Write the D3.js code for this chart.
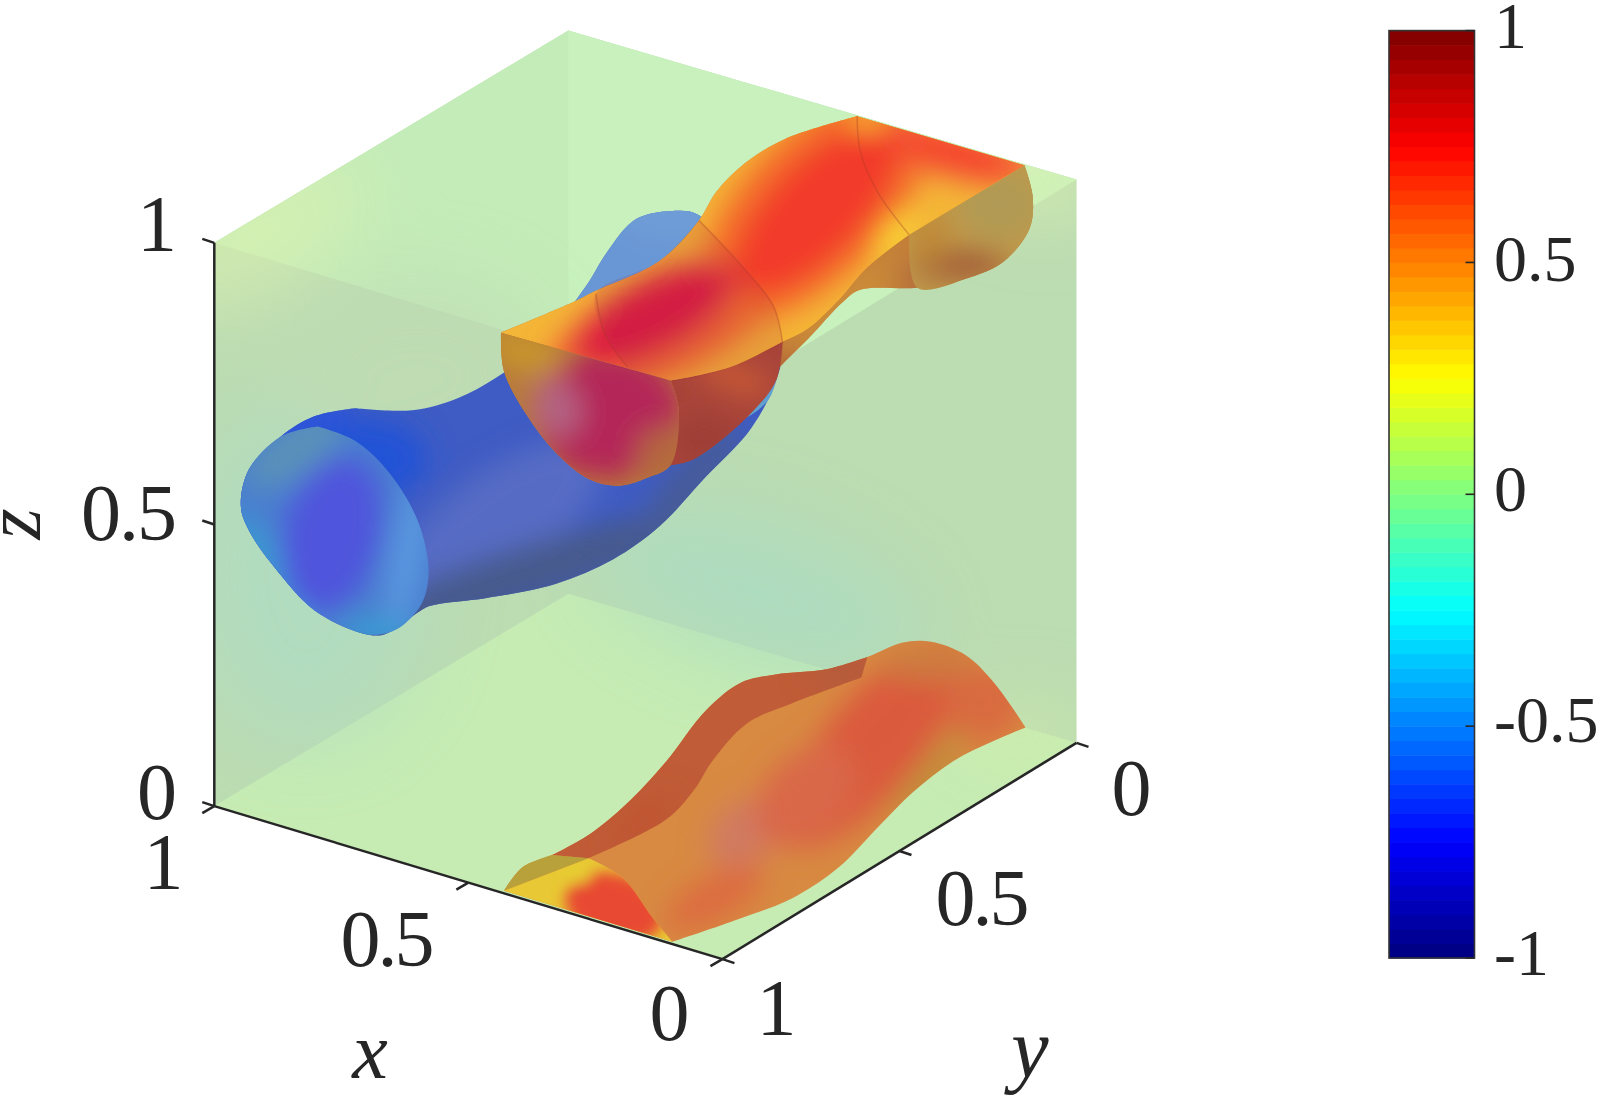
<!DOCTYPE html>
<html><head><meta charset="utf-8">
<style>html,body{margin:0;background:#fff}svg{display:block}text{font-family:"Liberation Serif",serif;fill:#262626}</style>
<script src="https://cdn.jsdelivr.net/npm/d3@7"></script></head><body><svg id="c" width="1600" height="1095"></svg>
<script>
// ---- axis data
const axisTicks=[0,0.5,1];
const zTickLabels=["0","0.5","1"], xTickLabels=["0","0.5","1"], yTickLabels=["0","0.5","1"];
const cbTicks=[-1,-0.5,0,0.5,1];
const cbTickLabels=["-1","-0.5","0","0.5","1"];
const jetStops=[-1,-0.75,-0.25,0.25,0.75,1];
const jetColors=["#00007f","#0000ff","#00ffff","#ffff00","#ff0000","#7f0000"];
const blueBody=[[138,390],[194,388],[239,400],[284,425],[330,460],[354,495],[368,515],[385,543],[413,575],[447,583],[475,579],[510,530],[540,490],[557,455],[551,418],[526,370],[481,322],[436,274],[391,242],[335,218],[267,204],[211,196],[194,186],[166,168],[143,170],[98,192],[59,234],[34,270],[26,294],[34,330],[65,362],[98,382]];
const blueCap=[[101,372],[138,358],[172,326],[200,278],[210,230],[203,198],[180,174],[160,168],[143,170],[98,192],[59,234],[34,270],[26,294],[34,330],[65,362]];
const blueTail=[[354,495],[368,515],[385,543],[413,575],[447,583],[475,579],[510,530],[557,455],[490,460],[402,430]];
const blueSliver=[[551,418],[543,398],[520,380],[501,376],[530,420]];
const redSilhouette=[[281,464],[352,494],[374,505],[436,534],[475,574],[492,602],[520,630],[560,654],[630,676],[794,628],[802,598],[799,566],[774,534],[740,518],[689,508],[633,506],[616,494],[582,458],[554,430],[537,408],[447,334],[425,322],[397,314],[368,320],[335,346],[307,382],[284,426]];
const redTopFace=[[281,464],[352,494],[374,505],[436,534],[475,574],[492,602],[520,630],[560,654],[630,676],[794,628],[681,560],[640,528],[612,496],[582,468],[557,455],[505,430],[447,417]];
const redFrontCap=[[281,464],[447,417],[455,390],[447,334],[425,322],[397,314],[368,320],[335,346],[307,382],[284,426]];
const redUnder=[[447,417],[505,430],[557,455],[551,418],[526,385],[470,340],[447,334],[455,390]];
const redBackCap=[[794,628],[802,598],[799,566],[774,534],[740,518],[689,508],[681,560]];
const redBand=[[475,574],[520,526],[548,490],[557,454],[505,430],[447,417],[405,430],[383,462],[374,502],[436,534]];
const seamArcs=[[[630,676],[633,642],[650,602],[681,560]],[[475,574],[520,526],[548,490],[557,454]],[[374,502],[383,462],[405,430]]];
const floorBody=[[284,-83],[302,-60],[331,-48],[370,-26],[409,7],[443,44],[482,94],[516,121],[550,129],[600,134],[640,146],[674,160],[702,161],[736,148],[764,121],[795,77],[764,64],[724,44],[685,14],[651,-20],[612,-60],[567,-90],[516,-110],[449,-133]];
const floorStrip=[[331,-48],[370,-26],[409,7],[443,44],[482,94],[516,121],[550,129],[600,134],[640,146],[634,126],[567,101],[522,81],[488,44],[471,17],[443,-13],[367,-51]];
const floorOlive=[[284,-83],[302,-60],[331,-48],[367,-51]];
const floorCap=[[284,-83],[367,-51],[400,-70],[430,-110],[449,-133]];
// ---- shading patches: [u,v,rx,ry,angle,colour]
const wallTints=[[90,230,120,170,0,"#aedcc4"],[530,210,170,70,18,"#a9dcc4"],[40,560,120,50,-30,"#dcf2ae"],[800,620,70,40,20,"#dcf2ae"],[790,70,70,30,0,"#d2eca8"],[200,420,130,100,0,"#c0dcb4"]];
const blueShade=[[60,300,70,130,20,"#2f55d8"],[150,340,60,40,0,"#2452d6"],[280,280,120,50,-35,"#566cc4"],[300,225,190,28,-18,"#465a8c"],[470,320,70,22,-48,"#465c98"],[450,580,60,30,0,"#6e9cd8"]];
const capShade=[[80,350,60,24,-35,"#5a92b8"],[190,250,16,80,10,"#5c9ae0"],[55,230,20,70,-35,"#3a9ad0"],[160,172,40,12,0,"#35a0d0"],[115,265,48,80,15,"#5054dc"]];
const redBlobs=[[440,470,130,50,-25,"#f06a30"],[590,590,150,72,-46,"#f3702c"],[725,640,95,26,15,"#f2703a"],[430,480,90,36,-28,"#dc1c40"],[590,585,110,48,-46,"#f23a2c"],[725,640,65,18,15,"#f4402f"],[668,560,24,10,-50,"#fbe838"],[640,672,18,7,0,"#fbe038"]];
const capBlobs=[[385,385,75,65,0,"#b42858"],[335,390,24,30,-20,"#b46484"],[305,445,40,18,15,"#c8982c"],[440,345,26,26,0,"#b4683c"]];
const backBlobs=[[770,590,40,34,0,"#b09a54"],[730,530,50,14,0,"#a05838"],[700,560,20,30,0,"#c08a38"]];
const floorBlobs=[[645,60,130,48,-50,"#da5a3e"],[520,-25,42,30,-40,"#d07a62"],[580,10,60,40,-45,"#d96848"],[755,100,42,36,-40,"#d96a40"],[700,30,60,10,-52,"#b89038"],[490,-90,55,22,-30,"#dc6c40"],[700,140,50,18,0,"#cc7c40"]];
const floorCapBlobs=[[392,-100,50,34,18,"#e84a30"],[355,-68,14,8,0,"#e6d030"]];
const stripBlobs=[[620,130,40,12,0,"#b05c3c"],[420,-15,40,16,-35,"#c05430"]];
const silhouetteBlobs=[[620,490,80,20,-40,"#cc8a34"],[540,400,60,16,-45,"#a04a34"],[720,520,60,14,0,"#a8603a"]];
const underBlobs=[[510,420,40,14,20,"#c85a34"],[480,360,30,20,0,"#9c3c34"]];

// ---- scales
const W=d3.select("#c");
const U=d3.scaleLinear().domain([0,845]).range([214.3,1076.5]);
const V=d3.scaleLinear().domain([0,760]).range([806.1,30.6]);
// box axes: x runs from front corner to left corner, y from right corner to front corner, z upward
const bx=d3.scaleLinear().domain([0,1]).range([[498,-150],[0,0]]);
const by=d3.scaleLinear().domain([0,1]).range([[347,212],[0,0]]);
const P=(x,y,z)=>{const a=bx(x),b=by(y);return [U(a[0]+b[0]),V(a[1]+b[1]+z*552-4*x*(1-y))];};
const toPx=p=>[U(p[0]),V(p[1])];
const catmull=d3.line().curve(d3.curveCatmullRom.alpha(0.5));
const sharp=d3.line();
// closed outline, smooth between the listed corner indices
function outlinePath(o,corners){
  const c=(corners&&corners.length)?corners:[0];
  let d="";
  c.forEach((start,k)=>{
    const end=k<c.length-1?c[k+1]:c[0]+o.length, run=[];
    for(let i=start;i<=end;i++) run.push(toPx(o[i%o.length]));
    const s=catmull(run);
    d+=k?s.replace(/^M/,"L"):s;
  });
  return d+"Z";
}
const defs=W.append("defs");
[["blurL",38],["blurM",14],["blurS",7]].forEach(([id,s])=>defs.append("filter").attr("id",id).attr("x","-60%").attr("y","-60%").attr("width","220%").attr("height","220%").append("feGaussianBlur").attr("stdDeviation",s));
let clipN=0;
function shaded(outline,corners,base,blobs,opts={}){
  const d=outlinePath(outline,corners), id="cl"+(clipN++);
  defs.append("clipPath").attr("id",id).append("path").attr("d",d);
  const g=W.append("g").attr("opacity",opts.opacity==null?1:opts.opacity);
  g.append("path").attr("d",d).attr("fill",base);
  const h=g.append("g").attr("clip-path",`url(#${id})`).append("g").attr("filter",`url(#${opts.blur||"blurM"})`);
  h.selectAll("ellipse").data(blobs).join("ellipse")
    .attr("rx",b=>b[2]).attr("ry",b=>b[3]).attr("fill",b=>b[5])
    .attr("transform",b=>`translate(${U(b[0])},${V(b[1])}) rotate(${b[4]})`);
}
// ---- box walls
const floorWall=[P(1,1,0),P(1,0,0),P(0,0,0),P(0,1,0)];
const hexWall=[P(1,1,1),P(1,0,1),P(0,0,1),P(0,0,0),P(0,1,0),P(1,1,0)];
const topWall=[P(1,1,1),P(1,0,1),P(0,0,1),P(0,1,1)];
const poly=pts=>sharp(pts)+"Z";
defs.append("clipPath").attr("id","box").append("path").attr("d",poly(hexWall));
W.append("path").attr("d",poly(hexWall)).attr("fill","#bcdcb2");
W.append("path").attr("d",poly(floorWall)).attr("fill","#c6ecb4");
W.append("path").attr("d",poly(topWall)).attr("fill","#c8f1bd");
W.append("path").attr("d",poly([P(1,1,1),P(1,0,1),[P(1,0,1)[0],P(0.305,1,1)[1]]])).attr("fill","#8ab08a").attr("opacity",0.06);
W.append("g").attr("clip-path","url(#box)").append("g").attr("filter","url(#blurL)").attr("opacity",0.7)
  .selectAll("ellipse").data(wallTints).join("ellipse")
  .attr("rx",b=>b[2]).attr("ry",b=>b[3]).attr("fill",b=>b[5])
  .attr("transform",b=>`translate(${U(b[0])},${V(b[1])}) rotate(${b[4]})`);
// ---- floor piece of the positive tube
shaded(floorBody,[0,15,23],"#d88a42",floorBlobs);
shaded(floorStrip,[0,8,9,15],"#c05c38",stripBlobs);
W.append("path").attr("d",outlinePath(floorOlive,[0,2,3])).attr("fill","#b8a03a");
shaded(floorCap,[0,1,4],"#e8c834",floorCapBlobs,{blur:"blurS"});
// ---- negative tube
shaded(blueBody,[],"#3f5cc4",blueShade);
W.append("path").attr("d",outlinePath(blueTail,[0,7,8,9])).attr("fill","#6e9cd6").attr("opacity",0.9);
shaded(blueCap,[],"#4a7ed0",capShade);
W.append("path").attr("d",outlinePath(blueSliver,[0,3])).attr("fill","#5fa0d0");
// ---- positive tube, upper piece
shaded(redSilhouette,[0,8,9],"#c47a34",silhouetteBlobs,{opacity:0.97});
shaded(redBackCap,[0,6],"#c09a4a",backBlobs);
shaded(redUnder,[0,2,6],"#a8443a",underBlobs);
shaded(redTopFace,[0,8,9,10,16],"#f4b638",redBlobs);
W.append("path").attr("d",outlinePath(redBand,[0,3,6])).attr("fill","#a02050").attr("opacity",0.14);
shaded(redFrontCap,[0,1],"#b87a3a",capBlobs);
W.append("g").selectAll("path").data(seamArcs).join("path")
  .attr("d",a=>catmull(a.map(toPx)))
  .attr("fill","none").attr("stroke","#a83c28").attr("stroke-width",1.5).attr("opacity",0.35);
// ---- axes
const axisColor="#262626";
const seg=(a,b,w=2.5)=>W.append("line").attr("x1",a[0]).attr("y1",a[1]).attr("x2",b[0]).attr("y2",b[1]).attr("stroke",axisColor).attr("stroke-width",w);
const off=(p,d)=>[p[0]+d[0],p[1]+d[1]];
seg(P(1,1,0),P(1,1,1)); seg(P(1,1,0),P(0,1,0)); seg(P(0,1,0),P(0,0,0));
axisTicks.forEach(t=>{
  seg(P(1,1,t),off(P(1,1,t),[-12,-4]));
  seg(P(t,1,0),off(P(t,1,0),[-12,7]));
  seg(P(0,t,0),off(P(0,t,0),[12,4]));
});
const label=(s,x,y,fs,ls,style)=>{const t=W.append("text").text(s).attr("x",x).attr("y",y).attr("font-size",fs);
  if(ls) t.attr("letter-spacing",ls); if(style) t.attr("font-style",style); return t;};
// reference-sized tick labels, paired with the tick arrays
const fs=80;
[[zTickLabels[2],251],[zTickLabels[1],540],[zTickLabels[0],819]].forEach(([s,y])=>label(s,175,y,fs,-2).attr("text-anchor","end"));
[[xTickLabels[2],162,889],[xTickLabels[1],386,966],[xTickLabels[0],668,1040]].forEach(([s,c,y])=>label(s,c,y,fs,-3).attr("text-anchor","middle"));
[[yTickLabels[0],1130,815],[yTickLabels[1],981,925],[yTickLabels[2],775,1035]].forEach(([s,c,y])=>label(s,c,y,fs,-3).attr("text-anchor","middle"));
label("x",370,1078,80,null,"italic").attr("text-anchor","middle");
label("y",1030,1077,84,null,"italic").attr("text-anchor","middle");
label("z",0,0,80,null,"italic").attr("text-anchor","middle").attr("transform","translate(40,524) rotate(-90)");
// ---- colour bar
const cbX=[1389,1474.5];
const cbY=d3.scaleLinear().domain([-1,1]).range([958,30.6]);
const jet=d3.scaleLinear().domain(jetStops).range(jetColors);
const nLevels=64, levelEdges=d3.range(nLevels+1).map(i=>-1+2*i/nLevels);
W.append("g").selectAll("rect").data(levelEdges.slice(0,-1)).join("rect")
  .attr("x",cbX[0]).attr("width",cbX[1]-cbX[0]).attr("y",(d,i)=>cbY(levelEdges[i+1])).attr("height",(d,i)=>cbY(levelEdges[i])-cbY(levelEdges[i+1])+0.5)
  .attr("fill",(d,i)=>jet((levelEdges[i]+levelEdges[i+1])/2));
W.append("rect").attr("x",cbX[0]).attr("y",cbY(1)).attr("width",cbX[1]-cbX[0]).attr("height",cbY(-1)-cbY(1)).attr("fill","none").attr("stroke","#333").attr("stroke-width",1.6);
cbTicks.forEach(t=>seg([cbX[1]-9,cbY(t)],[cbX[1],cbY(t)],1.6));
const cbOffset={"-1":3,"-0.5":2,"0":3,"0.5":5,"1":3};
cbTicks.forEach((t,i)=>label(cbTickLabels[i],1494,cbY(t)+cbOffset[t]+14,66));
</script></body></html>
